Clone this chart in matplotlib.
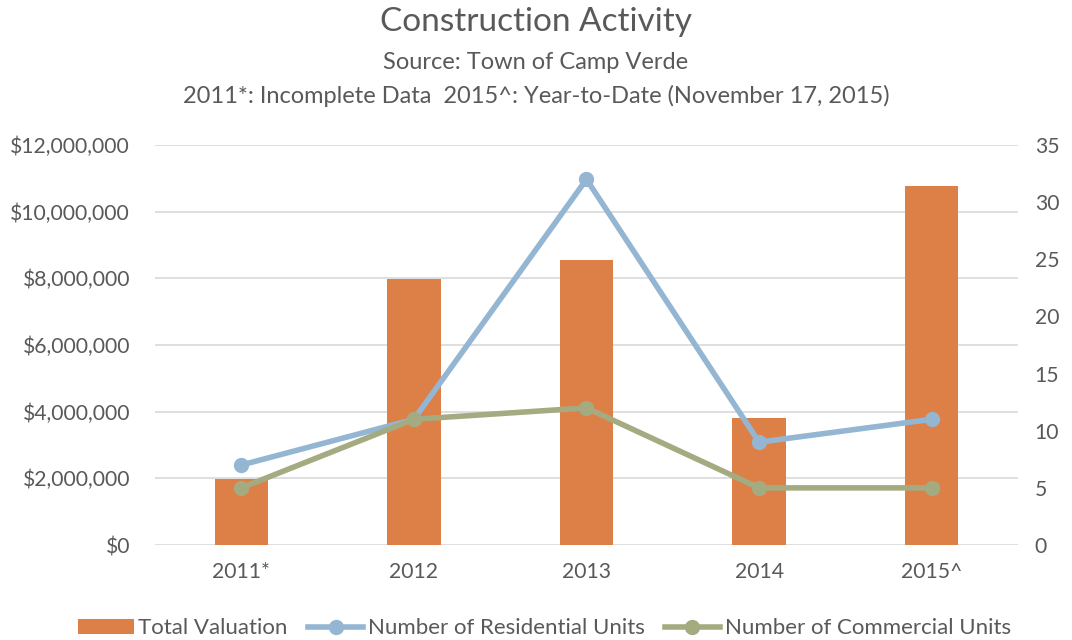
import matplotlib
matplotlib.use("Agg")
import matplotlib.pyplot as plt
import matplotlib.ticker as ticker
import numpy as np

plt.rcParams['font.family'] = ['Lato', 'DejaVu Sans']

years = ['2011*', '2012', '2013', '2014', '2015^']
valuation = [1970000, 7980000, 8550000, 3810000, 10770000]
residential = [7, 11, 32, 9, 11]
commercial = [5, 11, 12, 5, 5]

c_bar = '#DD8047'
c_res = '#94B6D2'
c_com = '#A5AB81'
c_txt = '#595959'

fig = plt.figure(figsize=(10.72, 6.4), dpi=100)
ax = fig.add_axes([0.1446, 0.1484, 0.805, 0.625])
x = np.arange(len(years))
bars = ax.bar(x, valuation, width=0.31, color=c_bar, label='Total Valuation', zorder=2)
ax.set_ylim(0, 12000000)
ax.set_xlim(-0.5, 4.5)
ax.yaxis.set_major_locator(ticker.MultipleLocator(2000000))
ax.yaxis.set_major_formatter(ticker.FuncFormatter(lambda v, p: '${:,.0f}'.format(v)))
ax.grid(axis='y', color='#D9D9D9', linewidth=1.2, zorder=0)
ax.set_axisbelow(True)
for s in ax.spines.values():
    s.set_visible(False)
ax.set_xticks(x)
ax.set_xticklabels(years)
ax.tick_params(length=0, labelsize=15.2, colors=c_txt, pad=12)
ax.tick_params(axis='y', pad=18)

ax2 = ax.twinx()
l1, = ax2.plot(x, residential, color=c_res, lw=4, marker='o', ms=10, label='Number of Residential Units', zorder=3)
l2, = ax2.plot(x, commercial, color=c_com, lw=4, marker='o', ms=10, label='Number of Commercial Units', zorder=3)
ax2.set_ylim(0, 35)
ax2.yaxis.set_major_locator(ticker.MultipleLocator(5))
for s in ax2.spines.values():
    s.set_visible(False)
ax2.tick_params(length=0, labelsize=15.2, colors=c_txt, pad=12)

fig.text(0.5, 0.965, 'Construction Activity', ha='center', va='center', fontsize=24, color=c_txt)
fig.text(0.5, 0.903, 'Source: Town of Camp Verde', ha='center', va='center', fontsize=17, color=c_txt)
fig.text(0.5, 0.85, '2011*: Incomplete Data  2015^: Year-to-Date (November 17, 2015)', ha='center', va='center', fontsize=17, color=c_txt)

fig.legend(handles=[bars, l1, l2], loc='center', bbox_to_anchor=(0.508, 0.018), ncol=3, frameon=False,
           fontsize=16, labelcolor=c_txt, handlelength=2.5, handletextpad=0.2, columnspacing=0.9)

fig.savefig('out.png', dpi=100)
